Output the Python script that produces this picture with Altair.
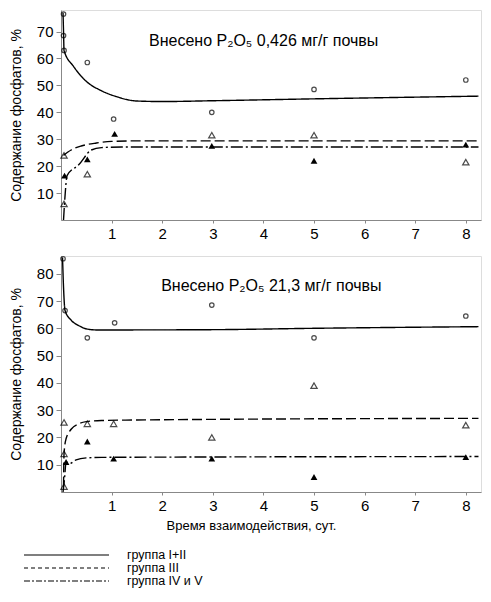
import altair as alt
import pandas as pd

# ---------------- data ----------------
groups = ["группа I+II", "группа III", "группа IV и V"]
x_ticks = [1, 2, 3, 4, 5, 6, 7, 8]

# top panel: P2O5 0,426 mg/g
top_circ_x = [0.05, 0.05, 0.06, 0.52, 1.04, 2.98, 5.0, 8.0]
top_circ_y = [76.5, 68.5, 63.0, 58.5, 37.5, 40.0, 48.5, 52.0]
top_otri_x = [0.06, 0.06, 0.52, 2.98, 5.0, 8.0]
top_otri_y = [24.0, 6.0, 17.0, 31.5, 31.5, 21.5]
top_ftri_x = [0.07, 0.52, 1.06, 2.98, 5.0, 8.0]
top_ftri_y = [16.5, 22.5, 32.0, 27.5, 22.0, 28.0]

top_c1_x = [0.04, 0.05, 0.06, 0.25, 0.5, 0.8, 1.1, 1.5, 2.0, 3.0, 5.0, 8.25]
top_c1_y = [77.0, 70.0, 63.0, 57.0, 51.5, 48.0, 45.8, 44.2, 44.0, 44.3, 45.0, 46.0]
top_c2_x = [0.05, 0.2, 0.4, 0.7, 1.0, 1.5, 8.25]
top_c2_y = [24.0, 26.0, 27.5, 28.6, 29.2, 29.4, 29.4]
top_c3_x = [0.05, 0.08, 0.12, 0.35, 0.6, 0.8, 1.2, 8.25]
top_c3_y = [0.0, 9.0, 16.5, 20.5, 26.0, 26.9, 27.1, 27.1]

# bottom panel: P2O5 21,3 mg/g
bot_circ_x = [0.04, 0.08, 0.52, 1.06, 2.98, 5.0, 8.0]
bot_circ_y = [85.5, 66.5, 56.5, 62.0, 68.5, 56.5, 64.5]
bot_otri_x = [0.06, 0.06, 0.06, 0.52, 1.04, 2.98, 5.0, 8.0]
bot_otri_y = [25.5, 14.0, 2.0, 25.0, 25.0, 20.0, 39.0, 24.5]
bot_ftri_x = [0.1, 0.52, 1.04, 2.98, 5.0, 8.0]
bot_ftri_y = [11.0, 18.5, 12.2, 12.2, 5.5, 12.8]

bot_c1_x = [0.03, 0.05, 0.08, 0.2, 0.35, 0.5, 0.7, 1.0, 3.0, 5.0, 8.25]
bot_c1_y = [86.0, 75.0, 66.5, 63.0, 61.0, 59.8, 59.4, 59.4, 59.5, 60.0, 60.6]
bot_c2_x = [0.05, 0.06, 0.1, 0.2, 0.35, 0.5, 0.8, 1.5, 8.25]
bot_c2_y = [2.0, 14.0, 19.5, 23.0, 25.0, 25.8, 26.2, 26.4, 27.0]
bot_c3_x = [0.04, 0.07, 0.1, 0.18, 0.3, 0.5, 0.8, 8.25]
bot_c3_y = [0.0, 5.0, 11.0, 10.5, 11.8, 12.5, 12.7, 13.0]

top_label = "Внесено  P₂O₅  0,426 мг/г почвы"
bot_label = "Внесено  P₂O₅  21,3 мг/г почвы"
y_title = "Содержание фосфатов, %"
x_title = "Время взаимодействия, сут."

# ---------------- styling ----------------
FONT = "Liberation Sans"
TICKFONT = "Liberation Sans Narrow, Arial Narrow, Liberation Sans"
dash_plot = [[1, 0], [10, 4], [12, 3, 2, 3]]
dash_legend = [[1, 0], [4, 3], [6, 2, 2, 2]]
XDOM = [0, 8.3]
W = 420
LEG_ROW_Y = [299, 312, 325]   # legend rows below the lower panel (pixels)


def curves_df(c1x, c1y, c2x, c2y, c3x, c3y):
    rows = []
    for g, xs, ys in zip(groups, [c1x, c2x, c3x], [c1y, c2y, c3y]):
        for i, (a, b) in enumerate(zip(xs, ys)):
            rows.append({"x": a, "y": b, "g": g, "i": i})
    return pd.DataFrame(rows)


def pts_df(xs, ys):
    return pd.DataFrame({"x": xs, "y": ys})


def panel(circ, otri, ftri, curves, label, lx, ly, ydom, yticks, show_xtitle):
    xax_kw = dict(values=x_ticks, tickSize=3, labelFontSize=15, labelFont=TICKFONT,
                  labelPadding=3, labelOverlap=False, grid=False)
    if show_xtitle:
        xax = alt.Axis(title=x_title, titleFontSize=13, titleFont=FONT,
                       titleFontWeight="normal", titlePadding=6, titleX=190, **xax_kw)
    else:
        xax = alt.Axis(title=None, **xax_kw)
    yax = alt.Axis(values=yticks, title=y_title, tickSize=5, labelFontSize=15,
                   labelFont=TICKFONT, labelPadding=3, labelOverlap=False,
                   titleFontSize=14, titleFont=FONT, titleFontWeight="normal",
                   titlePadding=13, grid=False)
    xs = alt.Scale(domain=XDOM, nice=False, zero=False)
    ys = alt.Scale(domain=ydom, nice=False)
    X = alt.X("x:Q", scale=xs, axis=xax)
    Y = alt.Y("y:Q", scale=ys, axis=yax)

    lines = alt.Chart(curves).mark_line(color="black", strokeWidth=1.4,
                                         interpolate="monotone").encode(
        x=X, y=Y, detail="g:N", order="i:Q",
        strokeDash=alt.StrokeDash("g:N", scale=alt.Scale(domain=groups, range=dash_plot),
                                  legend=None),
    )
    c = alt.Chart(circ).mark_point(shape="circle", filled=False, color="black",
                                   size=20, strokeWidth=1.2).encode(x=X, y=Y)
    o = alt.Chart(otri).mark_point(shape="triangle-up", filled=False, color="black",
                                   size=40, strokeWidth=1.2).encode(x=X, y=Y)
    f = alt.Chart(ftri).mark_point(shape="triangle-up", filled=True, color="black",
                                   size=45, opacity=1).encode(x=X, y=Y)
    t = alt.Chart(pd.DataFrame({"x": [lx], "y": [ly], "t": [label]})).mark_text(
        align="left", baseline="middle", font=FONT, fontSize=16, color="black"
    ).encode(x=X, y=Y, text="t:N")
    return [lines, c, o, f, t]


top_layers = panel(pts_df(top_circ_x, top_circ_y), pts_df(top_otri_x, top_otri_y),
                   pts_df(top_ftri_x, top_ftri_y),
                   curves_df(top_c1_x, top_c1_y, top_c2_x, top_c2_y, top_c3_x, top_c3_y),
                   top_label, 1.74, 66.5, [0, 78], [10, 20, 30, 40, 50, 60, 70], False)
bot_layers = panel(pts_df(bot_circ_x, bot_circ_y), pts_df(bot_otri_x, bot_otri_y),
                   pts_df(bot_ftri_x, bot_ftri_y),
                   curves_df(bot_c1_x, bot_c1_y, bot_c2_x, bot_c2_y, bot_c3_x, bot_c3_y),
                   bot_label, 1.98, 75.6, [0, 86.5], [10, 20, 30, 40, 50, 60, 70, 80], True)

# legend (drawn below the lower panel)
leg_layers = []
for g, dash, ry in zip(groups, dash_legend, LEG_ROW_Y):
    d = pd.DataFrame({"g": [g]})
    leg_layers.append(alt.Chart(d).mark_rule(color="black", strokeWidth=1.2,
                                             strokeDash=dash).encode(
        x=alt.value(-37), x2=alt.value(48), y=alt.value(ry)))
    leg_layers.append(alt.Chart(d).mark_text(align="left", baseline="middle", font=FONT,
                                             fontSize=12.5, color="black").encode(
        x=alt.value(66), y=alt.value(ry), text="g:N"))

top = alt.layer(*top_layers).properties(width=W, height=210)
bot = alt.layer(*bot_layers, *leg_layers).properties(width=W, height=236)

chart = alt.vconcat(top, bot, spacing=11).resolve_scale(
    strokeDash="independent", y="independent"
).properties(padding=0).configure_view(strokeWidth=0, stroke="transparent").configure_axis(
    domainColor="black", domainWidth=1.5, tickColor="black", labelColor="black",
    titleColor="black", tickWidth=1.2, labelOverlap=False
).configure(background="white")

chart.save("out.html", embed_options={"renderer": "svg", "actions": False})
